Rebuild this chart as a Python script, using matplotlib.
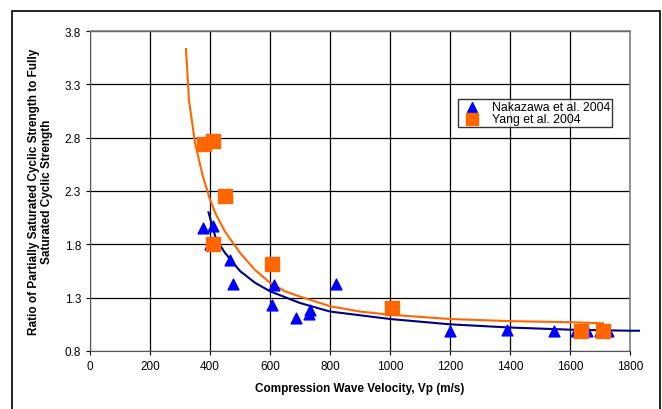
import matplotlib
matplotlib.use("Agg")
import matplotlib.pyplot as plt
from matplotlib.patches import Rectangle

plt.rcParams['font.family'] = ['Liberation Sans', 'DejaVu Sans']

# Data
naka_x = [375, 410, 400, 465, 475, 605, 612, 685, 730, 732, 820, 1200, 1390, 1545, 1620, 1655, 1700, 1725]
naka_y = [1.95, 1.97, 1.80, 1.65, 1.43, 1.23, 1.42, 1.11, 1.15, 1.18, 1.43, 0.99, 1.00, 0.99, 0.99, 0.99, 0.99, 0.99]
yang_x = [380, 410, 450, 410, 605, 1005, 1635, 1710]
yang_y = [2.74, 2.77, 2.25, 1.80, 1.62, 1.20, 0.99, 0.99]

yang_fit_x = [320, 330, 350, 375, 400, 420, 450, 500, 550, 600, 650, 700, 800, 900, 1000, 1200, 1400, 1600, 1710]
yang_fit_y = [3.63, 3.15, 2.75, 2.45, 2.22, 2.08, 1.92, 1.72, 1.56, 1.44, 1.36, 1.31, 1.22, 1.17, 1.14, 1.10, 1.08, 1.07, 1.06]
naka_fit_x = [395, 420, 450, 500, 550, 600, 700, 800, 1000, 1200, 1400, 1600, 1800, 1830]
naka_fit_y = [2.10, 1.85, 1.72, 1.55, 1.44, 1.36, 1.25, 1.17, 1.10, 1.05, 1.02, 1.00, 0.99, 0.99]

xticks = [0, 200, 400, 600, 800, 1000, 1200, 1400, 1600, 1800]
yticks = [0.8, 1.3, 1.8, 2.3, 2.8, 3.3, 3.8]

fig = plt.figure(figsize=(6.62, 4.10), dpi=100)
ax = fig.add_axes([90/662, 1-352/410, 540/662, 320/410])

ax.plot(naka_fit_x, naka_fit_y, color='#000080', lw=1.5, zorder=3, clip_on=False)
ax.plot(yang_fit_x, yang_fit_y, color='#FF6600', lw=1.5, zorder=3)
ax.scatter(naka_x, naka_y, marker='^', s=60, color='#0000FF', zorder=4, label='Nakazawa et al. 2004')
ax.scatter(yang_x, yang_y, marker='s', s=90, color='#FF6600', zorder=5, label='Yang et al. 2004')

ax.set_xlim(0, 1800)
ax.set_ylim(0.8, 3.8)
ax.set_xticks(xticks)
ax.set_yticks(yticks)
ax.set_yticklabels([f"{v:.1f}" for v in yticks])
ax.grid(True, color='black', lw=0.9)
ax.set_axisbelow(True)
for s in ['top', 'right']:
    ax.spines[s].set_color('#808080')
    ax.spines[s].set_linewidth(1.2)
for s in ['left', 'bottom']:
    ax.spines[s].set_color('#555555')
ax.tick_params(labelsize=8.5, length=3, direction='out')

ax.set_xlabel('Compression Wave Velocity, Vp (m/s)', fontsize=8.5, fontweight='bold', labelpad=7)
ax.set_ylabel('Ratio of Partially Saturated Cyclic Strength to Fully\nSaturated Cyclic Strength',
              fontsize=8.5, fontweight='bold', labelpad=8)

leg = ax.legend(loc='upper left', bbox_to_anchor=(368/540, (352-100)/320), fontsize=8.8,
                frameon=True, fancybox=False, edgecolor='black', borderpad=0.15,
                handletextpad=0.6, labelspacing=0.0, borderaxespad=0, handlelength=2.0,
                markerscale=0.9)
leg.get_frame().set_linewidth(1.0)

fig.patches.append(Rectangle((12/662, -0.1), (660-12)/662, 1.1-12/410,
                             transform=fig.transFigure, fill=False, edgecolor='black', lw=1.2))

fig.savefig('out.png', dpi=100)
